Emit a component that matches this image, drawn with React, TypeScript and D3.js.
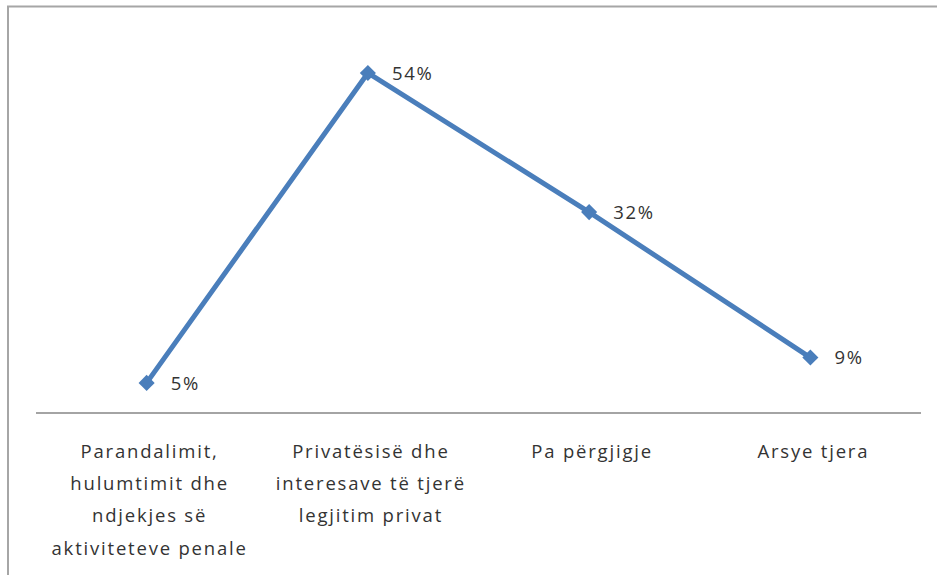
import React from "react";
import * as d3 from "d3";

const categories: string[][] = [
  ["Parandalimit,", "hulumtimit dhe", "ndjekjes së", "aktiviteteve penale"],
  ["Privatësisë dhe", "interesave të tjerë", "legjitim privat"],
  ["Pa përgjigje"],
  ["Arsye tjera"],
];
const values: number[] = [5, 54, 32, 9];
const valueLabels: string[] = ["5%", "54%", "32%", "9%"];

const W = 937;
const H = 575;
const FONT = "'Open Sans', sans-serif";

export default function App() {
  const x = d3
    .scaleBand<number>()
    .domain(categories.map((_, i) => i))
    .range([36, 921]);
  const y = d3.scaleLinear().domain([0, 60]).range([414.5, 35]);
  const cx = (i: number) => (x(i) as number) + x.bandwidth() / 2;
  const line = d3
    .line<number>()
    .x((_, i) => cx(i))
    .y((d) => y(d));
  const diamond = d3.symbol().type(d3.symbolDiamond2).size(165)();

  return (
    <svg
      width={W}
      height={H}
      style={{ position: "absolute", left: 0, top: 0, display: "block", background: "#fff" }}
    >
      <rect x={8} y={6.5} width={W + 20} height={H + 20} fill="#fff" stroke="#a6a6a6" strokeWidth={2} />
      <line x1={36} x2={921} y1={413} y2={413} stroke="#868686" strokeWidth={1.3} />
      <path d={line(values) || ""} fill="none" stroke="#4a7ebb" strokeWidth={5} strokeLinejoin="round" />
      {values.map((v, i) => (
        <path key={"m" + i} d={diamond || ""} transform={`translate(${cx(i)},${y(v)})`} fill="#4a7ebb" />
      ))}
      {values.map((v, i) => (
        <text
          key={"l" + i}
          x={cx(i) + 24}
          y={y(v)}
          dy="0.36em"
          fontFamily={FONT}
          fontSize={18.5}
          letterSpacing={1.7}
          fill="#333333"
        >
          {valueLabels[i]}
        </text>
      ))}
      {categories.map((lines, i) => (
        <text
          key={"c" + i}
          x={cx(i) + 3}
          y={451}
          textAnchor="middle"
          fontFamily={FONT}
          fontSize={18.5}
          letterSpacing={1.8}
          fill="#333333"
        >
          {lines.map((t, j) => (
            <tspan key={j} x={cx(i) + 3} dy={j === 0 ? "0.36em" : 32.3}>
              {t}
            </tspan>
          ))}
        </text>
      ))}
    </svg>
  );
}
